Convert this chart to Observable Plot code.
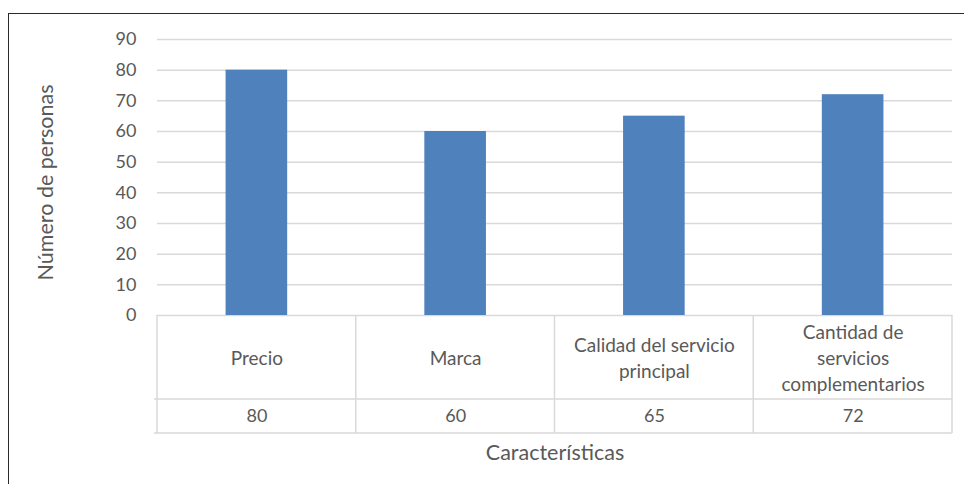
<!DOCTYPE html>
<html>
<head>
<meta charset="utf-8">
<script src="https://cdn.jsdelivr.net/npm/d3@7"></script>
<script src="https://cdn.jsdelivr.net/npm/@observablehq/plot@0.6"></script>
<style>
  html, body { margin: 0; padding: 0; background: #fff; }
  #page { position: relative; width: 964px; height: 484px; overflow: hidden; }
  #frame {
    position: absolute; left: 8px; top: 13px; right: -10px; bottom: -10px;
    border-top: 1.5px solid #2b2b2b; border-left: 1.5px solid #2b2b2b;
  }
  #chart { position: absolute; left: 0; top: 0; }
  #chart svg { font-family: Lato, "Open Sans", sans-serif; }
</style>
</head>
<body>
<div id="page">
  <div id="frame"></div>
  <div id="chart"></div>
</div>
<script>
// Factores considerados al elegir un servicio
const categories = ["Precio", "Marca", "Calidad del servicio\nprincipal", "Cantidad de\nservicios\ncomplementarios"];
const values = [80, 60, 65, 72];
const yTicks = [0, 10, 20, 30, 40, 50, 60, 70, 80, 90];
const xTitle = "Características";
const yTitle = "Número de personas";

const rows = categories.map((c, i) => ({i, category: c, value: values[i]}));
const boundaries = d3.range(categories.length + 1);

const grid = "#d9d9d9";
const ink = "#595959";
const barFill = "#4f81bd";
const barWidth = 0.31;       // fraction of each category slot
const labelRow = 84;         // height of the category row under the axis
const valueRow = 34;         // height of the value row

// Table of categories and values drawn under the plot area
function dataTable(index, scales, channels, dims) {
  const g = d3.create("svg:g").attr("stroke", grid).attr("stroke-width", 1.5).attr("fill", "none");
  const y0 = scales.y(0);
  const x0 = scales.x(0) - 3;
  const x1 = scales.x(categories.length);
  for (const dy of [labelRow, labelRow + valueRow]) {
    g.append("line").attr("x1", x0).attr("x2", x1).attr("y1", y0 + dy).attr("y2", y0 + dy);
  }
  for (const b of boundaries) {
    g.append("line").attr("x1", scales.x(b)).attr("x2", scales.x(b))
      .attr("y1", y0).attr("y2", y0 + labelRow + valueRow);
  }
  return g.node();
}

const plot = Plot.plot({
  width: 964,
  height: 484,
  marginLeft: 157,
  marginRight: 12,
  marginTop: 39,
  marginBottom: 169,
  style: {fontSize: "18px", color: ink, background: "transparent"},
  x: {domain: [0, categories.length], axis: null},
  y: {domain: [0, 90], ticks: yTicks, tickSize: 0, tickPadding: 21, label: null, tickFormat: d => d},
  marks: [
    Plot.ruleY(yTicks, {stroke: grid, strokeWidth: 1.5}),
    Plot.rectY(rows, {x1: d => d.i + (1 - barWidth) / 2, x2: d => d.i + (1 + barWidth) / 2, y: "value", fill: barFill}),
    dataTable,
    Plot.text(rows, {x: d => d.i + 0.5, y: 0, dy: labelRow / 2 - 1, text: "category", lineAnchor: "middle", lineHeight: 1.36, fill: ink, fontSize: 19}),
    Plot.text(rows, {x: d => d.i + 0.5, y: 0, dy: labelRow + valueRow / 2, text: d => String(d.value), lineAnchor: "middle", fill: ink, fontSize: 18}),
    Plot.text([xTitle], {frameAnchor: "bottom", dy: 138, lineAnchor: "middle", fill: ink, fontSize: 21.5}),
    Plot.text([yTitle], {frameAnchor: "left", textAnchor: "middle", dx: -111, dy: 5, rotate: -90, lineAnchor: "middle", fill: ink, fontSize: 21.5})
  ]
});
document.getElementById("chart").append(plot);
</script>
</body>
</html>
